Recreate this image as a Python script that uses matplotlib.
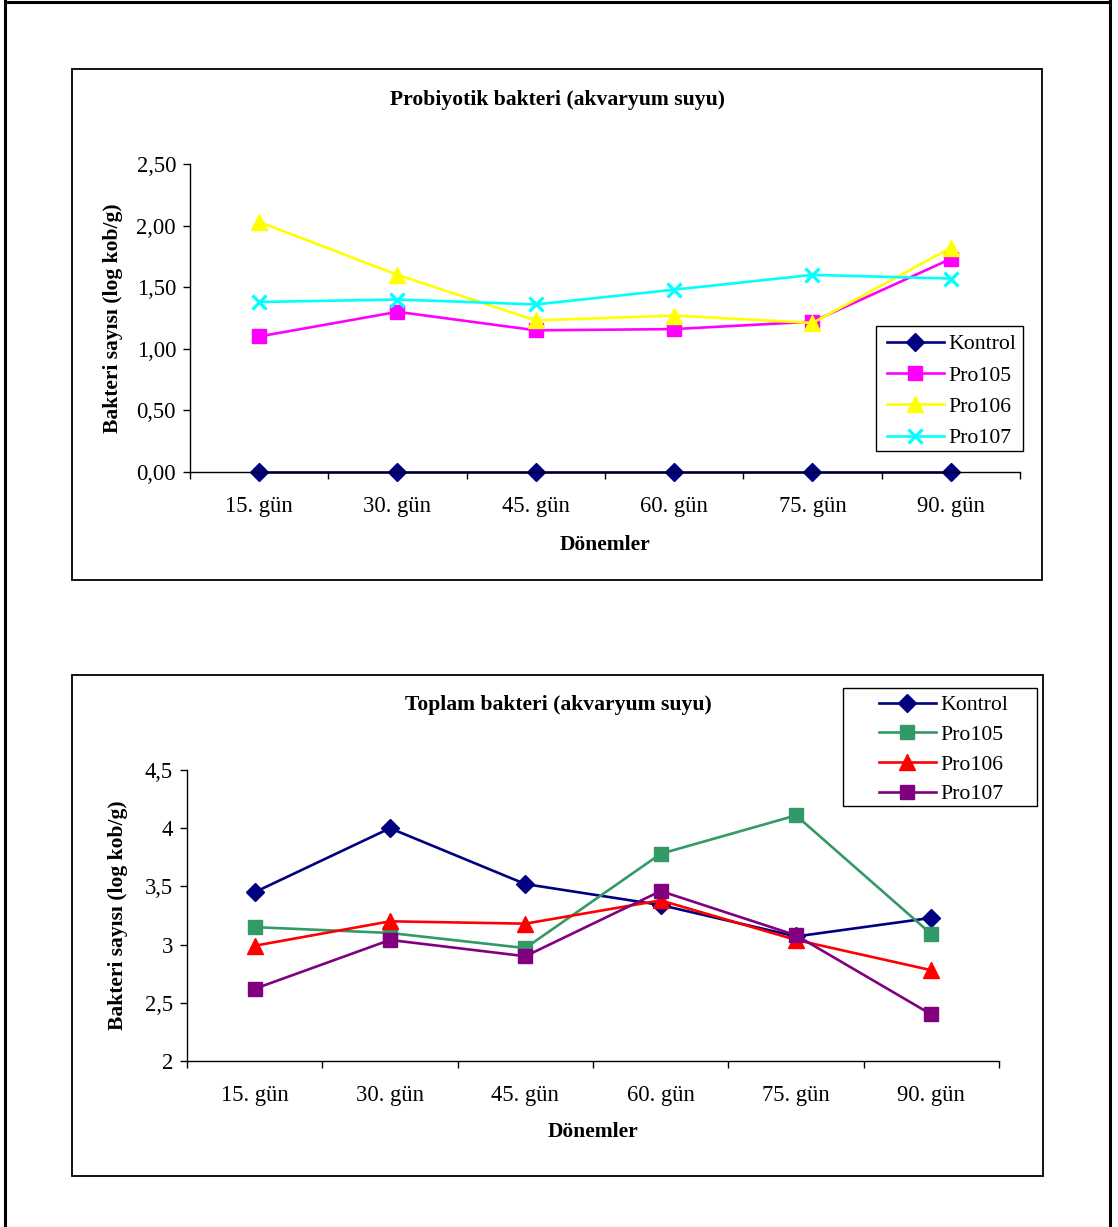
"""Probiyotik / toplam bakteri (akvaryum suyu) - iki çizgi grafik"""
import matplotlib
matplotlib.use("Agg")
import matplotlib.pyplot as plt
from matplotlib.patches import Rectangle
from matplotlib.lines import Line2D

plt.rcParams["font.family"] = ["Liberation Serif", "DejaVu Serif"]

W, H, DPI = 1118, 1227, 100

periods = ["15. gün", "30. gün", "45. gün", "60. gün", "75. gün", "90. gün"]
series_names = ["Kontrol", "Pro105", "Pro106", "Pro107"]

# üst grafik: probiyotik bakteri
pro_kontrol = [0.00, 0.00, 0.00, 0.00, 0.00, 0.00]
pro_105 = [1.10, 1.30, 1.15, 1.16, 1.22, 1.73]
pro_106 = [2.03, 1.60, 1.23, 1.27, 1.21, 1.82]
pro_107 = [1.38, 1.40, 1.36, 1.48, 1.60, 1.57]
pro_yticks = [0.0, 0.5, 1.0, 1.5, 2.0, 2.5]
pro_yticklabels = ["0,00", "0,50", "1,00", "1,50", "2,00", "2,50"]

# alt grafik: toplam bakteri
top_kontrol = [3.45, 4.00, 3.52, 3.34, 3.07, 3.23]
top_105 = [3.15, 3.10, 2.97, 3.78, 4.11, 3.09]
top_106 = [2.99, 3.20, 3.18, 3.38, 3.04, 2.78]
top_107 = [2.62, 3.04, 2.90, 3.46, 3.08, 2.40]
top_yticks = [2.0, 2.5, 3.0, 3.5, 4.0, 4.5]
top_yticklabels = ["2", "2,5", "3", "3,5", "4", "4,5"]


def px_rect(x0, y0, x1, y1):
    """piksel koordinatlarını figure kesirine çevir"""
    return [x0 / W, 1 - y1 / H, (x1 - x0) / W, (y1 - y0) / H]


def px_box(x0, y0, x1, y1, lw):
    fig.add_artist(Rectangle((x0 / W, 1 - y1 / H), (x1 - x0) / W, (y1 - y0) / H,
                             fill=False, edgecolor="black", lw=lw,
                             transform=fig.transFigure))


fig = plt.figure(figsize=(W / DPI, H / DPI), dpi=DPI)
fig.patch.set_facecolor("white")

# sayfa çerçevesi
for xs, ys in [([5, 5], [0, H]), ([1110, 1110], [0, H]), ([5, 1110], [1.5, 1.5])]:
    fig.add_artist(Line2D([x / W for x in xs], [1 - y / H for y in ys],
                          color="black", lw=2.2, transform=fig.transFigure))

# grafik kutuları
px_box(72, 69, 1042, 580, 1.3)
px_box(72, 675, 1043, 1176, 1.3)


def draw(ax, data, styles, yticks, yticklabels, ylim):
    xs = range(len(periods))
    for name, vals, (color, marker, ms) in zip(series_names, data, styles):
        kw = dict(color=color, lw=1.9, marker=marker, markersize=ms, label=name,
                  markerfacecolor=color, markeredgecolor=color, clip_on=False)
        if marker == "x":
            kw["markeredgewidth"] = 2.3
        ax.plot(xs, vals, **kw)
    ax.set_xlim(-0.5, len(periods) - 0.5)
    ax.set_ylim(*ylim)
    ax.set_yticks(yticks)
    ax.set_yticklabels(yticklabels, fontsize=16.3)
    ax.set_xticks(list(xs))
    ax.set_xticklabels(periods, fontsize=16.3)
    ax.set_xticks([i - 0.5 for i in range(len(periods) + 1)], minor=True)
    ax.tick_params(axis="x", which="major", length=0, pad=17)
    ax.tick_params(axis="x", which="minor", length=5, width=1, direction="out")
    ax.tick_params(axis="y", length=5, width=1, direction="out", pad=5)
    for s in ["top", "right"]:
        ax.spines[s].set_visible(False)
    for s in ["left", "bottom"]:
        ax.spines[s].set_linewidth(1)
    ax.set_ylabel("Bakteri sayısı (log kob/g)", fontsize=15.5, fontweight="bold")
    ax.set_xlabel("Dönemler", fontsize=15.5, fontweight="bold", va="top")


legend_kw = dict(loc="upper left", bbox_transform=fig.transFigure, borderaxespad=0,
                 borderpad=0, fontsize=15.7, frameon=False, handlelength=2.6,
                 handletextpad=0.2)

# --- üst grafik ---
ax1 = fig.add_axes(px_rect(190, 164, 1020, 472))
draw(ax1, [pro_kontrol, pro_105, pro_106, pro_107],
     [("#000080", "D", 9), ("#FF00FF", "s", 10), ("#FFFF00", "^", 11), ("#00FFFF", "x", 10)],
     pro_yticks, pro_yticklabels, (0, 2.5))
ax1.yaxis.set_label_coords(-0.081, 0.5)
ax1.xaxis.set_label_coords(0.5, -0.205)
fig.text(557 / W, 1 - 100 / H, "Probiyotik bakteri (akvaryum suyu)",
         ha="center", va="center", fontsize=15.6, fontweight="bold")
ax1.legend(bbox_to_anchor=(887 / W, 1 - 334 / H), labelspacing=0.51, **legend_kw)
px_box(876, 326, 1023, 451, 1.0)

# --- alt grafik ---
ax2 = fig.add_axes(px_rect(187, 770, 999, 1061))
draw(ax2, [top_kontrol, top_105, top_106, top_107],
     [("#000080", "D", 9), ("#339966", "s", 10), ("#FF0000", "^", 11), ("#800080", "s", 10)],
     top_yticks, top_yticklabels, (2, 4.5))
ax2.yaxis.set_label_coords(-0.073, 0.5)
ax2.xaxis.set_label_coords(0.5, -0.21)
fig.text(558 / W, 1 - 705 / H, "Toplam bakteri (akvaryum suyu)",
         ha="center", va="center", fontsize=15.6, fontweight="bold")
ax2.legend(bbox_to_anchor=(879 / W, 1 - 695 / H), labelspacing=0.43, **legend_kw)
px_box(843, 688, 1037, 806, 1.0)

fig.savefig("out.png", dpi=DPI)
plt.close(fig)
